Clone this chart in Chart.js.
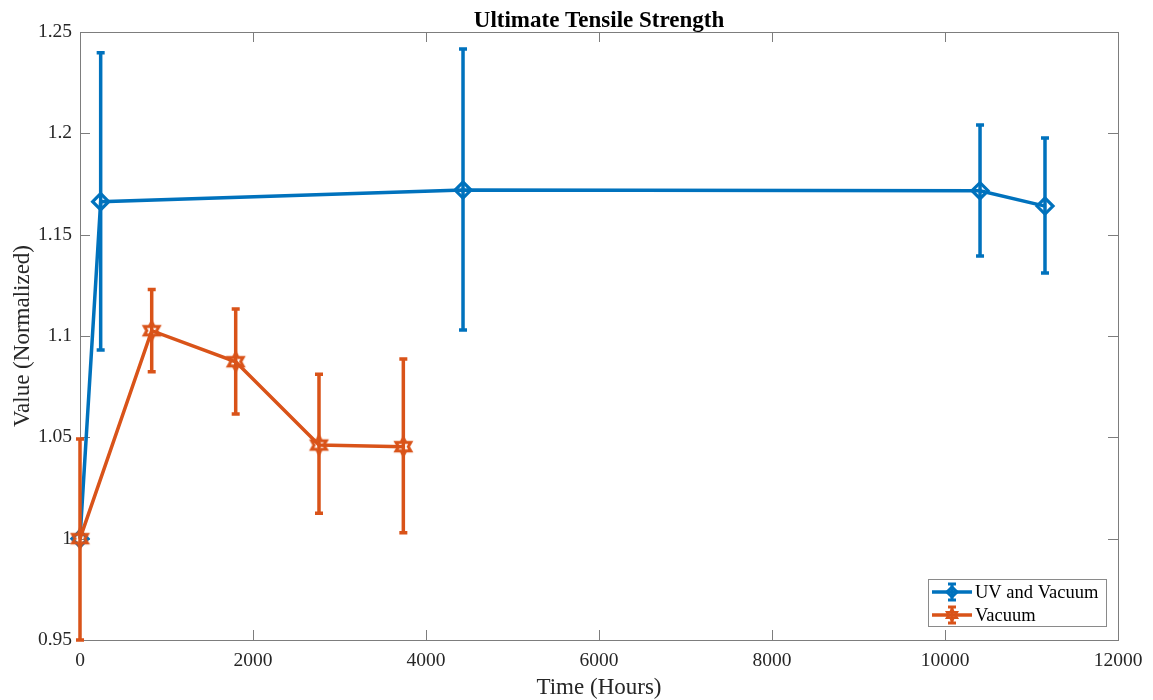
<!DOCTYPE html>
<html>
<head>
<meta charset="utf-8">
<title>Ultimate Tensile Strength</title>
<script src="https://cdn.jsdelivr.net/npm/chart.js@4/dist/chart.umd.min.js"></script>
<style>
  html, body { margin: 0; padding: 0; background: #ffffff; }
  #wrap { width: 1153px; height: 700px; }
</style>
</head>
<body>
<div id="wrap"><canvas id="uts" width="1153" height="700"></canvas></div>
<script>
// Exposure time in hours and normalized strength, with error bar bounds
const uvHours = [0, 239, 4428, 10405, 11156];
const uvValue = [1.0, 1.1663, 1.1720, 1.1717, 1.1641];
const uvLow   = [null, 1.0931, 1.1030, 1.1395, 1.1311];
const uvHigh  = [null, 1.2398, 1.2416, 1.2041, 1.1977];

const vacHours = [0, 829, 1800, 2763, 3738];
const vacValue = [1.0, 1.1026, 1.0873, 1.0462, 1.0454];
const vacLow   = [0.95, 1.0824, 1.0615, 1.0125, 1.0029];
const vacHigh  = [1.0492, 1.1229, 1.1133, 1.0811, 1.0887];

const xTicks = [0, 2000, 4000, 6000, 8000, 10000, 12000];
const yTicks = [0.95, 1, 1.05, 1.1, 1.15, 1.2, 1.25];

const seriesNames = ['UV and Vacuum', 'Vacuum'];
const titleText = 'Ultimate Tensile Strength';
const xTitle = 'Time (Hours)';
const yTitle = 'Value (Normalized)';

const BLUE = '#0072BD';
const ORANGE = '#D95319';
const AXIS = '#7d7d7d';
const TEXT = '#262626';
const SERIF = '"Liberation Serif", "Times New Roman", serif';
const LINE_W = 3.5;

// Outlined six-pointed star used as a point marker
function hexagram(color, R, lw) {
  const s = Math.ceil(2 * R + lw * 2 + 2);
  const c = document.createElement('canvas');
  c.width = s; c.height = s;
  const g = c.getContext('2d');
  drawHexagram(g, s / 2, s / 2, R, color, lw);
  return c;
}
function drawHexagram(g, cx, cy, R, color, lw) {
  const r = R / Math.sqrt(3);
  g.save();
  g.beginPath();
  for (let k = 0; k < 12; k++) {
    const a = -Math.PI / 2 + k * Math.PI / 6;
    const rad = k % 2 === 0 ? R : r;
    const px = cx + rad * Math.cos(a), py = cy + rad * Math.sin(a);
    if (k === 0) g.moveTo(px, py); else g.lineTo(px, py);
  }
  g.closePath();
  g.strokeStyle = color;
  g.lineWidth = lw;
  g.lineJoin = 'miter';
  g.stroke();
  g.restore();
}
function drawDiamond(g, cx, cy, R, color, lw) {
  g.save();
  g.beginPath();
  g.moveTo(cx, cy - R); g.lineTo(cx + R, cy); g.lineTo(cx, cy + R); g.lineTo(cx - R, cy);
  g.closePath();
  g.strokeStyle = color; g.lineWidth = lw; g.stroke();
  g.restore();
}
const starMarker = hexagram(ORANGE, 8.5, 3);

const bounds = [
  { low: uvLow, high: uvHigh, color: BLUE },
  { low: vacLow, high: vacHigh, color: ORANGE }
];

function errorBar(g, x, yLo, yHi, color, cap, w) {
  g.save();
  g.strokeStyle = color;
  g.lineWidth = w;
  g.lineCap = 'butt';
  g.beginPath();
  g.moveTo(x, yLo); g.lineTo(x, yHi);
  g.moveTo(x - cap, yLo); g.lineTo(x + cap, yLo);
  g.moveTo(x - cap, yHi); g.lineTo(x + cap, yHi);
  g.stroke();
  g.restore();
}

const axesFrame = {
  id: 'axesFrame',
  beforeDatasetsDraw(chart) {
    const { ctx, chartArea: a, scales } = chart;
    ctx.save();
    ctx.strokeStyle = AXIS;
    ctx.lineWidth = 1;
    ctx.strokeRect(a.left + 0.5, a.top + 0.5, a.right - a.left, a.bottom - a.top);
    ctx.beginPath();
    const len = 10;
    scales.x.ticks.forEach(t => {
      const px = Math.round(scales.x.getPixelForValue(t.value)) + 0.5;
      ctx.moveTo(px, a.bottom); ctx.lineTo(px, a.bottom - len);
      ctx.moveTo(px, a.top); ctx.lineTo(px, a.top + len);
    });
    scales.y.ticks.forEach(t => {
      const py = Math.round(scales.y.getPixelForValue(t.value)) + 0.5;
      ctx.moveTo(a.left, py); ctx.lineTo(a.left + len, py);
      ctx.moveTo(a.right, py); ctx.lineTo(a.right - len, py);
    });
    ctx.stroke();
    ctx.restore();
  },
  beforeDatasetDraw(chart, args) {
    const b = bounds[args.index];
    const ds = chart.data.datasets[args.index];
    const { ctx, scales } = chart;
    ds.data.forEach((p, i) => {
      if (b.low[i] == null || b.high[i] == null) return;
      errorBar(ctx, scales.x.getPixelForValue(p.x),
        scales.y.getPixelForValue(b.low[i]),
        scales.y.getPixelForValue(b.high[i]), b.color, 4, LINE_W);
    });
  },
  afterDraw(chart) {
    const { ctx, chartArea: a } = chart;
    ctx.save();
    // title
    ctx.fillStyle = '#000';
    ctx.font = 'bold 23px ' + SERIF;
    ctx.textAlign = 'center';
    ctx.textBaseline = 'alphabetic';
    ctx.fillText(titleText, (a.left + a.right) / 2, 27);

    // legend
    const lx = 928, ly = 579, lw = 178, lh = 47;
    ctx.fillStyle = '#fff';
    ctx.fillRect(lx, ly, lw, lh);
    ctx.strokeStyle = '#8a8a8a';
    ctx.lineWidth = 1;
    ctx.strokeRect(lx + 0.5, ly + 0.5, lw, lh);
    const rows = [
      { y: 592, color: BLUE, name: seriesNames[0], mark: 'd' },
      { y: 615, color: ORANGE, name: seriesNames[1], mark: 's' }
    ];
    rows.forEach(r => {
      ctx.strokeStyle = r.color;
      ctx.lineWidth = LINE_W;
      ctx.beginPath();
      ctx.moveTo(932, r.y); ctx.lineTo(972, r.y);
      ctx.stroke();
      errorBar(ctx, 952, r.y + 8, r.y - 8, r.color, 4, 3);
      if (r.mark === 'd') drawDiamond(ctx, 952, r.y, 5, r.color, 3);
      else drawHexagram(ctx, 952, r.y, 5.5, r.color, 2.6);
      ctx.fillStyle = '#000';
      ctx.font = '18.5px ' + SERIF;
      ctx.textAlign = 'left';
      ctx.textBaseline = 'middle';
      ctx.fillText(r.name, 975, r.y + 1);
    });
    ctx.restore();
  }
};

const toPts = (xs, ys) => xs.map((x, i) => ({ x: x, y: ys[i] }));

new Chart(document.getElementById('uts'), {
  type: 'line',
  data: {
    datasets: [
      {
        label: seriesNames[0],
        data: toPts(uvHours, uvValue),
        borderColor: BLUE,
        borderWidth: LINE_W,
        backgroundColor: 'rgba(0,0,0,0)',
        pointStyle: 'rectRot',
        pointRadius: 8,
        pointBorderWidth: 3.2,
        pointBorderColor: BLUE,
        pointBackgroundColor: 'rgba(0,0,0,0)',
        tension: 0,
        clip: false,
        order: 2
      },
      {
        label: seriesNames[1],
        data: toPts(vacHours, vacValue),
        borderColor: ORANGE,
        borderWidth: LINE_W,
        backgroundColor: 'rgba(0,0,0,0)',
        pointStyle: starMarker,
        pointRadius: 9,
        pointBorderColor: ORANGE,
        tension: 0,
        clip: false,
        order: 1
      }
    ]
  },
  options: {
    responsive: false,
    animation: false,
    devicePixelRatio: 1,
    layout: { padding: { top: 32, right: 35, bottom: 0, left: 0 } },
    plugins: {
      legend: { display: false },
      title: { display: false },
      tooltip: { enabled: false }
    },
    scales: {
      x: {
        type: 'linear',
        min: 0, max: 12000,
        afterBuildTicks: s => { s.ticks = xTicks.map(v => ({ value: v })); },
        afterFit: s => { s.height = 60; },
        grid: { display: false, drawTicks: false },
        border: { display: false },
        ticks: {
          padding: 9,
          color: TEXT,
          font: { family: SERIF, size: 19.5 },
          maxRotation: 0,
          callback: v => String(v)
        },
        title: {
          display: true,
          text: xTitle,
          color: TEXT,
          font: { family: SERIF, size: 23 },
          padding: { top: 0, bottom: -1.5 }
        }
      },
      y: {
        type: 'linear',
        min: 0.95, max: 1.25,
        afterBuildTicks: s => { s.ticks = yTicks.map(v => ({ value: v })); },
        afterFit: s => { s.width = 80; },
        grid: { display: false, drawTicks: false },
        border: { display: false },
        ticks: {
          padding: 8,
          color: TEXT,
          font: { family: SERIF, size: 19.5 },
          callback: v => String(Math.round(v * 100) / 100)
        },
        title: {
          display: true,
          text: yTitle,
          color: TEXT,
          font: { family: SERIF, size: 23 },
          padding: { top: 9, bottom: 0 }
        }
      }
    }
  },
  plugins: [axesFrame]
});
</script>
</body>
</html>
